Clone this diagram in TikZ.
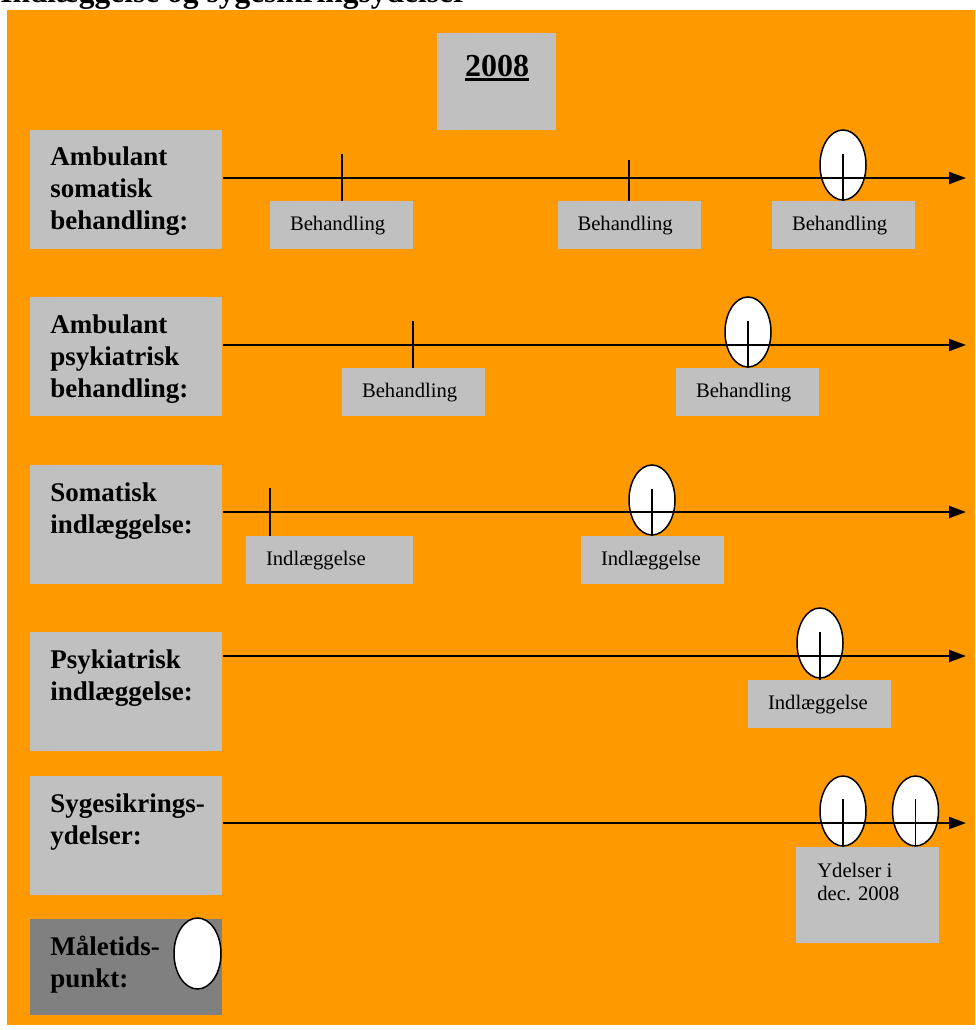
\documentclass[tikz,border=0pt]{standalone}
\usepackage{fontspec}
\setmainfont{Liberation Serif}
\usetikzlibrary{arrows.meta,shapes.geometric}
\newlength{\pix}
\setlength{\pix}{0.75pt}
\definecolor{bgorange}{RGB}{255,153,0}
\definecolor{boxgray}{RGB}{192,192,192}
\definecolor{keygray}{RGB}{128,128,128}

\begin{document}
\begin{tikzpicture}[x=\pix,y=-\pix]
 \tikzset{category box/.style={
    fill=boxgray,
    minimum width=192\pix,
    minimum height=#1,
    anchor=north west,
    inner sep=0pt
  },
  category box/.default=119\pix,
  category text/.style={
    anchor=base west, align=left, inner sep=0pt,
    font=\bfseries\fontsize{20.25}{24}\selectfont
  },
  event box/.style={
    fill=boxgray,
    minimum height=48\pix,
    text width=#1,
    inner xsep=20\pix, inner ysep=0pt,
    anchor=north, align=left,
    font=\fontsize{15.5}{17.25}\selectfont
  },
  event box/.default=103\pix,
  timeline/.style={line width=2\pix, -{Triangle[length=12.75pt,width=9pt]}},
  event line/.style={line width=1.5\pix},
  point/.style={
    ellipse, draw, fill=white, line width=1.5\pix,
    minimum width=46\pix, minimum height=70\pix, inner sep=0pt
  }
}
\useasboundingbox (0,0) rectangle (975,1030);
\fill[bgorange] (7,10) rectangle (975,1025);
\node[anchor=base west, inner sep=0pt, font=\bfseries\fontsize{23.6}{28}\selectfont]
  (title) at (0,3) {Indlæggelse og sygesikringsydelser};

% year
\node[fill=boxgray, minimum width=119\pix, minimum height=97\pix, anchor=north west] (yearbox) at (437,33) {};
\node[anchor=base, inner sep=0pt, font=\bfseries\fontsize{24}{28}\selectfont] (year) at (497,77) {2008};
\draw[line width=3\pix] ([yshift=-3\pix]year.base west) -- ([yshift=-3\pix]year.base east);

% categories (text placed by the baseline of its last line)
\node[category box] (cat1) at (30,130) {};
\node[category box] (cat2) at (30,297) {};
\node[category box] (cat3) at (30,465) {};
\node[category box] (cat4) at (30,632) {};
\node[category box] (cat5) at (30,776) {};
\node[category box=96\pix, fill=keygray] (cat6) at (30,919) {};
\node[category text] (lab1) at (50,230) {Ambulant\\somatisk\\behandling:};
\node[category text] (lab2) at (50,397) {Ambulant\\psykiatrisk\\behandling:};
\node[category text] (lab3) at (50,533) {Somatisk\\indlæggelse:};
\node[category text] (lab4) at (50,700) {Psykiatrisk\\indlæggelse:};
\node[category text] (lab5) at (50,844) {Sygesikrings-\\ydelser:};
\node[category text] (lab6) at (50,987) {Måletids-\\punkt:};
\node[point, minimum width=47\pix, minimum height=71\pix] (key) at (197.5,953.5) {};

% measuring points
\node[point] (p1) at (843,165) {};
\node[point] (p2) at (748,332) {};
\node[point] (p3) at (652,500) {};
\node[point] (p4) at (820,643) {};
\node[point] (p5) at (843,811) {};
\node[point] (p6) at (915.5,811) {};

% time lines
\coordinate (e1) at (966,178);
\coordinate (e2) at (966,345);
\coordinate (e3) at (966,512);
\coordinate (e4) at (966,656);
\coordinate (e5) at (966,823);
\draw[timeline] (cat1.east |- e1) -- (e1);
\draw[timeline] (cat2.east |- e2) -- (e2);
\draw[timeline] (cat3.east |- e3) -- (e3);
\draw[timeline] (cat4.east |- e4) -- (e4);
\draw[timeline] (cat5.east |- e5) -- (e5);

% events
\node[event box] (b11) at (341.5,201) {Behandling};
\node[event box] (b12) at (629,201) {Behandling};
\node[event box] (b13) at (843.5,201) {Behandling};
\node[event box] (b21) at (413.5,368) {Behandling};
\node[event box] (b22) at (747.5,368) {Behandling};
\node[event box=127\pix] (b31) at (329.5,536) {Indlæggelse};
\node[event box] (b32) at (652.5,536) {Indlæggelse};
\node[event box] (b41) at (819.5,680) {Indlæggelse};
\node[fill=boxgray, minimum width=143\pix, minimum height=96\pix, inner sep=0pt, anchor=north] (b51) at (867.5,847) {};
\node[anchor=base west, align=left, inner sep=0pt, font=\fontsize{15.5}{17.25}\selectfont]
  (b51text) at (817,900) {Ydelser i\\dec. 2008};

\coordinate (k11) at (342,154);
\coordinate (k12) at (629,160);
\coordinate (k13) at (843,154);
\coordinate (k21) at (413,321);
\coordinate (k22) at (748,321);
\coordinate (k31) at (270,488);
\coordinate (k32) at (652,489);
\coordinate (k41) at (820,632);
\coordinate (k51) at (843,799);
\coordinate (k52) at (915.5,799);
\draw[event line] (k11) -- (k11 |- b11.north);
\draw[event line] (k12) -- (k12 |- b12.north);
\draw[event line] (k13) -- (k13 |- b13.north);
\draw[event line] (k21) -- (k21 |- b21.north);
\draw[event line] (k22) -- (k22 |- b22.north);
\draw[event line] (k31) -- (k31 |- b31.north);
\draw[event line] (k32) -- (k32 |- b32.north);
\draw[event line] (k41) -- (k41 |- b41.north);
\draw[event line] (k51) -- (k51 |- b51.north);
\draw[event line] (k52) -- (k52 |- b51.north);
\end{tikzpicture}
\end{document}
